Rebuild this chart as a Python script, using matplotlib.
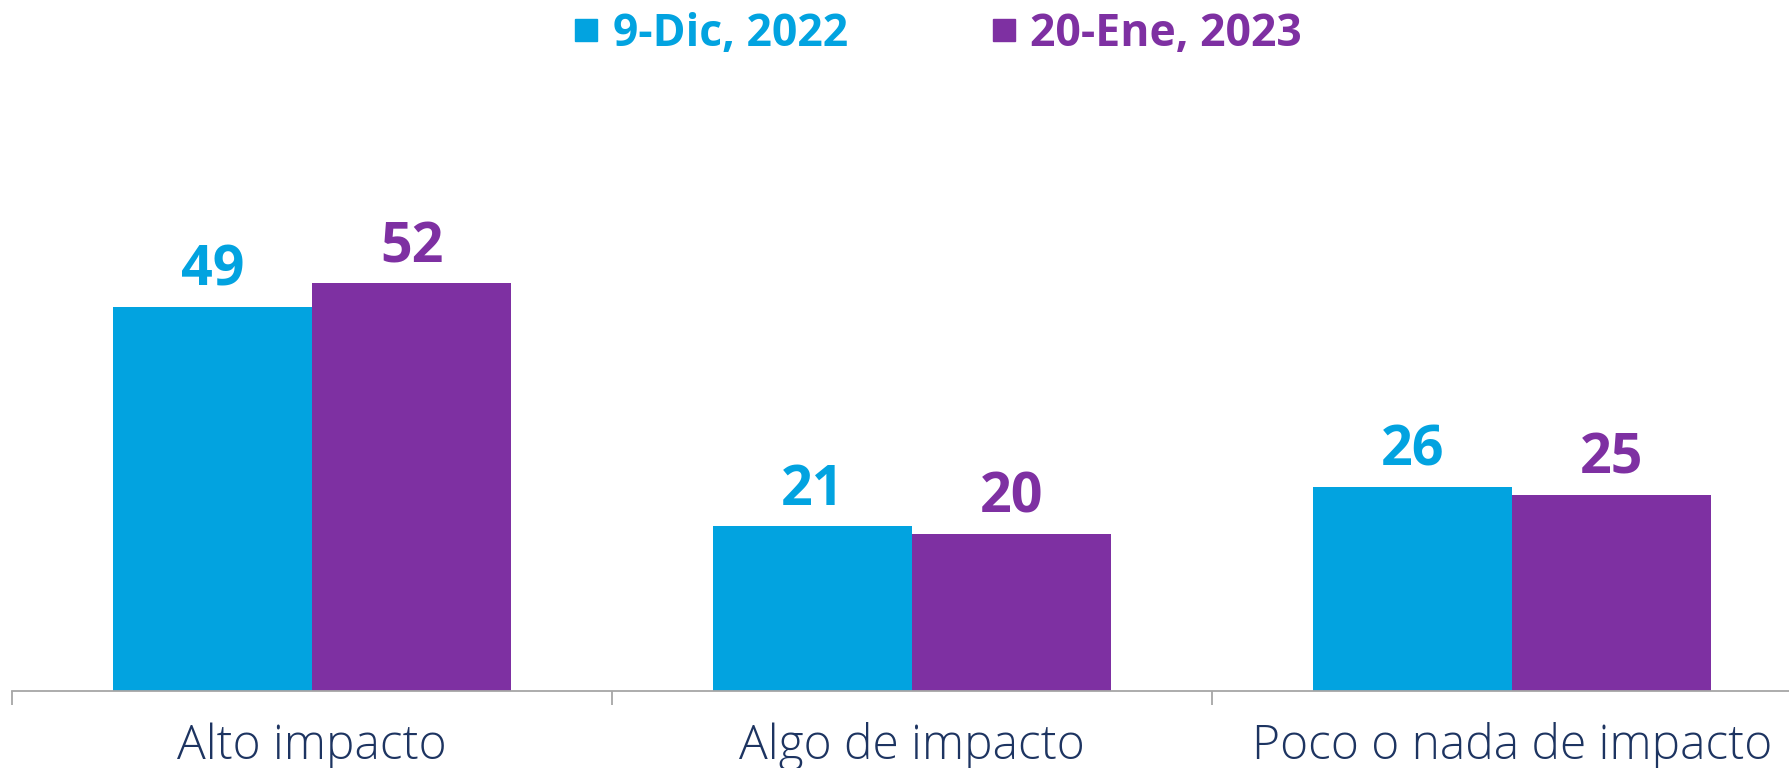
import matplotlib
matplotlib.use("Agg")
import matplotlib.pyplot as plt
from matplotlib.lines import Line2D
import numpy as np

categorias = ["Alto impacto", "Algo de impacto", "Poco o nada de impacto"]
series = ["9-Dic, 2022", "20-Ene, 2023"]
valores_dic = [49, 21, 26]
valores_ene = [52, 20, 25]

azul = "#02A3E0"
morado = "#7E30A2"
navy = "#1D3461"
colores = [azul, morado]

W, H = 1790, 768
fig = plt.figure(figsize=(W / 100, H / 100), dpi=100)
# el eje va un poco mas alla del borde derecho, como en el original
ax = fig.add_axes([12 / W, 1 - 691 / H, 1800 / W, 627 / H])

x = np.arange(len(categorias))
ancho = 0.332
for i, (vals, col) in enumerate(zip([valores_dic, valores_ene], colores)):
    pos = x + (i - 0.5) * ancho
    barras = ax.bar(pos, vals, width=ancho, color=col, edgecolor="none")
    for b, v in zip(barras, vals):
        ax.annotate(str(v), (b.get_x() + b.get_width() / 2, v),
                    xytext=(0, 6), textcoords="offset points",
                    ha="center", va="bottom", color=col,
                    fontsize=40, fontweight="bold", family="Open Sans")

ax.set_xlim(-0.5, 2.5)
ax.set_ylim(0, 80)
for s in ["top", "right", "left"]:
    ax.spines[s].set_visible(False)
ax.spines["bottom"].set_color("#A6A6A6")
ax.spines["bottom"].set_linewidth(1.3)
ax.set_yticks([])
ax.set_xticks([-0.5, 0.5, 1.5])
ax.set_xticklabels([])
ax.tick_params(axis="x", length=10, color="#A6A6A6", width=1.3)
for xi, cat in zip(x, categorias):
    ax.text(xi, -4.0, cat, ha="center", va="top", color=navy,
            fontsize=34.5, fontweight="light", family="Open Sans")

handles = [Line2D([], [], marker="s", linestyle="none", markersize=16,
                  markerfacecolor=c, markeredgecolor=c) for c in colores]
leg = fig.legend(handles, series, loc="upper left",
                 bbox_to_anchor=(573 / W, 1 - 12 / H), ncol=2, frameon=False,
                 handlelength=0.6, handletextpad=0.3, columnspacing=3.2,
                 prop={"family": "Open Sans", "weight": "bold", "size": 32},
                 labelcolor=colores, borderaxespad=0, borderpad=0)

fig.savefig("out.png", dpi=100)
